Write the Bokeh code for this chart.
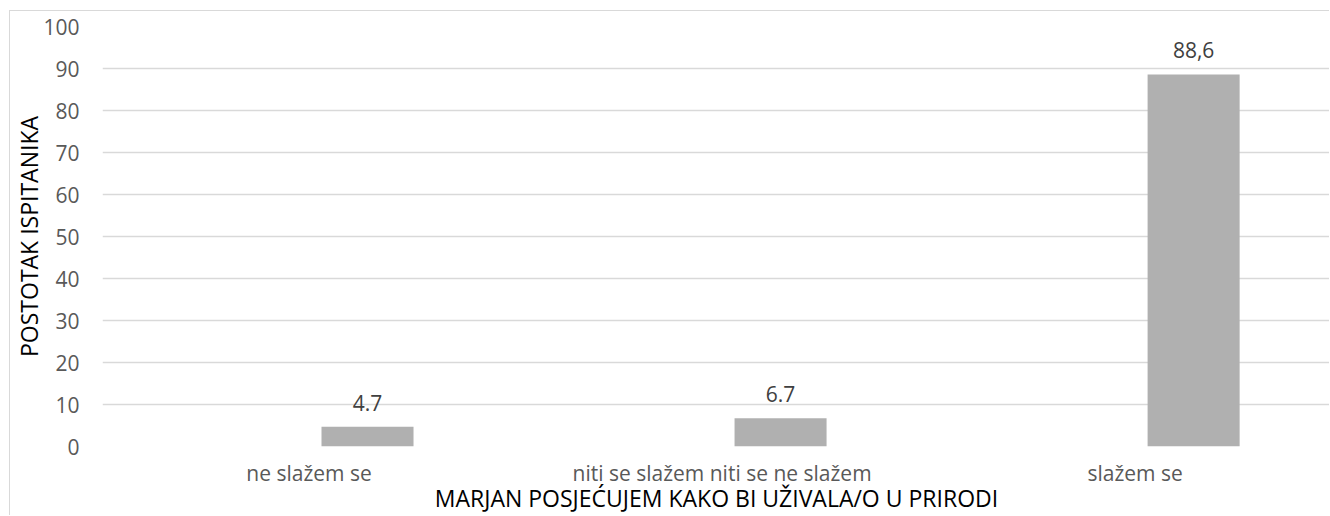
from bokeh.plotting import figure
from bokeh.models import ColumnDataSource, FixedTicker, LabelSet, Range1d
from bokeh.transform import dodge
from bokeh.embed import file_html
from bokeh.resources import INLINE
from bokeh.core.properties import value

categories = ["ne slažem se", "niti se slažem niti se ne slažem", "slažem se"]
values = [4.7, 6.7, 88.6]
value_labels = ["4.7", "6.7", "88,6"]
y_ticks = [0, 10, 20, 30, 40, 50, 60, 70, 80, 90, 100]
x_title = "MARJAN POSJEĆUJEM KAKO BI UŽIVALA/O U PRIRODI"
y_title = "POSTOTAK ISPITANIKA"

FONT = "Open Sans"
n = len(categories)
centers = [i + 0.5 for i in range(n)]

src = ColumnDataSource(dict(x=centers, top=values, lab=value_labels))

p = figure(width=1320, height=505, output_backend="svg", toolbar_location=None,
           x_range=Range1d(0, 2.973), y_range=Range1d(0, 100),
           min_border_left=92, min_border_right=0, min_border_top=15,
           min_border_bottom=20)

p.styles = {"margin-left": "9px", "margin-top": "10px",
            "border-left": "1px solid #d9d9d9", "border-top": "1px solid #d9d9d9"}

p.vbar(x=dodge("x", 0.1416), top="top", width=0.2228, bottom=0, source=src,
       fill_color="#b0b0b0", line_color=None)

labels = LabelSet(x=dodge("x", 0.1416), y="top", text="lab", source=src,
                  text_align="center", text_baseline="alphabetic", y_offset=16,
                  text_font=value(FONT), text_font_size="21px", text_color="#404040")
p.add_layout(labels)

p.outline_line_color = None
p.background_fill_color = "white"
p.border_fill_color = "white"
p.xgrid.grid_line_color = None
p.ygrid.grid_line_color = "#d9d9d9"
p.ygrid.grid_line_width = 1.5

p.yaxis.ticker = FixedTicker(ticks=y_ticks)
p.xaxis.ticker = FixedTicker(ticks=centers)
p.xaxis.major_label_overrides = {c: cat for c, cat in zip(centers, categories)}

for ax in (p.xaxis[0], p.yaxis[0]):
    ax.axis_line_color = None
    ax.major_tick_line_color = None
    ax.minor_tick_line_color = None
    ax.major_tick_out = 0
    ax.major_tick_in = 0
    ax.minor_tick_out = 0
    ax.major_label_text_font = FONT
    ax.major_label_text_font_size = "21px"
    ax.major_label_text_color = "#595959"
    ax.axis_label_text_font = FONT
    ax.axis_label_text_font_size = "23px"
    ax.axis_label_text_font_style = "normal"
    ax.axis_label_text_color = "#000000"

p.yaxis.major_label_standoff = 23
p.yaxis.axis_label = y_title
p.yaxis.axis_label_standoff = -5
p.xaxis.axis_label = x_title
p.xaxis.major_label_standoff = 12
p.xaxis.axis_label_standoff = -8

open("out.html", "w").write(file_html(p, INLINE))
